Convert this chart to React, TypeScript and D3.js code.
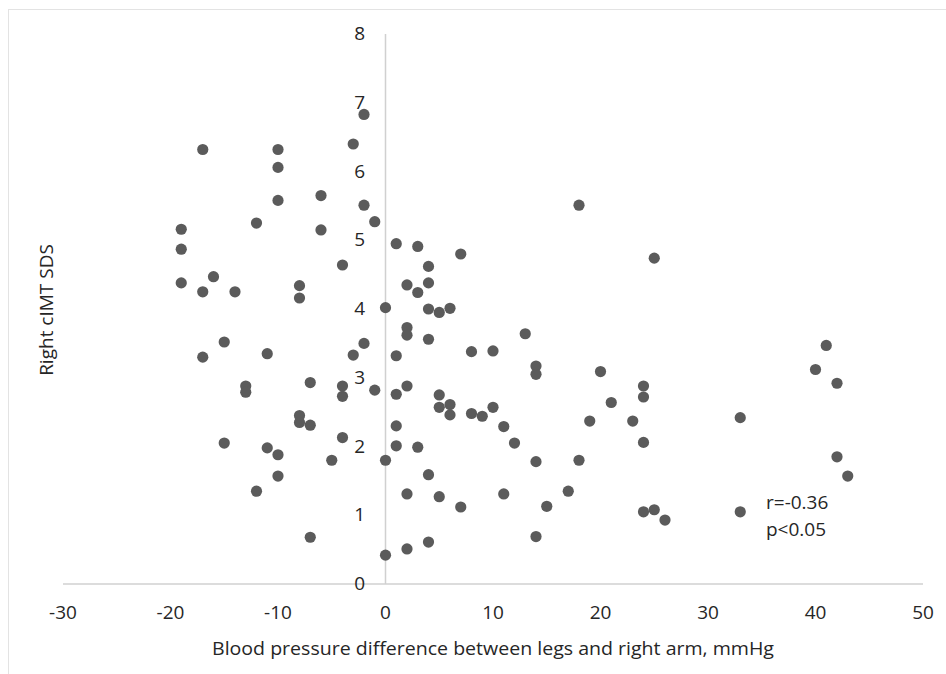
import React from "react";
import * as d3 from "d3";

const bpDiff: number[] = [
  -17, -10, -10, -10, -3, -2, -6, -2, -1, -6, -12, -19, -19, -19, -16, -17, -14, -8, -8, -4,
  -15, -17, -11, -3, -2, -13, -13, -7, -4, -4, -1, -8, -8, -7, -15, -11, -10, -4, -5, 0,
  -10, -12, -7, 0, 0, 1, 3, 7, 4, 4, 2, 3, 4, 5, 6, 2, 2, 4, 1, 8,
  10, 13, 14, 14, 20, 2, 1, 5, 5, 6, 6, 8, 9, 10, 11, 12, 1, 1, 3, 14,
  18, 19, 21, 23, 24, 24, 24, 18, 25, 33, 40, 41, 42, 42, 43, 4, 2, 5, 7, 11,
  15, 17, 24, 25, 26, 33, 2, 4, 14,
];
const cimtSds: number[] = [
  6.32, 6.32, 6.06, 5.58, 6.4, 6.83, 5.65, 5.51, 5.27, 5.15, 5.25, 5.16, 4.87, 4.38, 4.47, 4.25, 4.25, 4.34, 4.16, 4.64,
  3.52, 3.3, 3.35, 3.33, 3.5, 2.88, 2.79, 2.93, 2.88, 2.73, 2.82, 2.45, 2.35, 2.31, 2.05, 1.98, 1.88, 2.13, 1.8, 1.8,
  1.57, 1.35, 0.68, 0.42, 4.02, 4.95, 4.91, 4.8, 4.62, 4.38, 4.35, 4.24, 4.0, 3.95, 4.01, 3.73, 3.62, 3.56, 3.32, 3.38,
  3.39, 3.64, 3.17, 3.05, 3.09, 2.88, 2.76, 2.75, 2.57, 2.61, 2.46, 2.48, 2.44, 2.57, 2.29, 2.05, 2.3, 2.01, 1.99, 1.78,
  1.8, 2.37, 2.64, 2.37, 2.88, 2.72, 2.06, 5.51, 4.74, 2.42, 3.12, 3.47, 2.92, 1.85, 1.57, 1.59, 1.31, 1.27, 1.12, 1.31,
  1.13, 1.35, 1.05, 1.08, 0.93, 1.05, 0.51, 0.61, 0.69,
];
const xTicks: number[] = [-30, -20, -10, 0, 10, 20, 30, 40, 50];
const yTicks: number[] = [0, 1, 2, 3, 4, 5, 6, 7, 8];
const xTitle = "Blood pressure difference between legs and right arm, mmHg";
const yTitle = "Right cIMT SDS";
const annotation: string[] = ["r=-0.36", "p<0.05"];

export default function App() {
  const W = 946;
  const H = 674;
  const x = d3.scaleLinear().domain([-30, 50]).range([63, 923]);
  const y = d3.scaleLinear().domain([0, 8]).range([584, 34]);
  const font = "'Open Sans', 'Noto Sans', sans-serif";
  const axisColor = "#d0d0d0";
  const textColor = "#262626";
  const dotColor = "#5b5b5b";

  return (
    <svg
      width={W}
      height={H}
      style={{ position: "absolute", left: 0, top: 0, background: "#fff" }}
    >
      <rect x={0} y={0} width={W} height={H} fill="#fff" />
      <rect x={8.5} y={9.5} width={W + 10} height={H + 10} fill="none" stroke="#e3e3e3" strokeWidth={1} />
      {/* axes */}
      <line x1={x(-30)} x2={x(50)} y1={y(0)} y2={y(0)} stroke={axisColor} strokeWidth={1.5} />
      <line x1={x(0)} x2={x(0)} y1={y(0)} y2={y(8)} stroke={axisColor} strokeWidth={1.5} />
      {/* x tick labels */}
      {xTicks.map((t) => (
        <text
          key={"xt" + t}
          x={x(t)}
          y={612}
          textAnchor="middle"
          dominantBaseline="central"
          fontFamily={font}
          fontSize={19}
          fill={textColor}
        >
          {t}
        </text>
      ))}
      {/* y tick labels */}
      {yTicks.map((t) => (
        <text
          key={"yt" + t}
          x={365}
          y={y(t) - 1}
          textAnchor="end"
          dominantBaseline="central"
          fontFamily={font}
          fontSize={19}
          fill={textColor}
        >
          {t}
        </text>
      ))}
      {/* points */}
      {bpDiff.map((v, i) => (
        <circle key={"p" + i} cx={x(v)} cy={y(cimtSds[i])} r={5.6} fill={dotColor} />
      ))}
      {/* titles */}
      <text
        x={(x(-30) + x(50)) / 2}
        y={648}
        textAnchor="middle"
        dominantBaseline="central"
        fontFamily={font}
        fontSize={19}
        fill={textColor}
        textLength={562}
        lengthAdjust="spacingAndGlyphs"
      >
        {xTitle}
      </text>
      <text
        transform={`translate(46,310) rotate(-90)`}
        textAnchor="middle"
        dominantBaseline="central"
        fontFamily={font}
        fontSize={19}
        fill={textColor}
      >
        {yTitle}
      </text>
      {annotation.map((a, i) => (
        <text
          key={"an" + i}
          x={766}
          y={502 + i * 27}
          dominantBaseline="central"
          fontFamily={font}
          fontSize={19}
          fill={textColor}
        >
          {a}
        </text>
      ))}
    </svg>
  );
}
